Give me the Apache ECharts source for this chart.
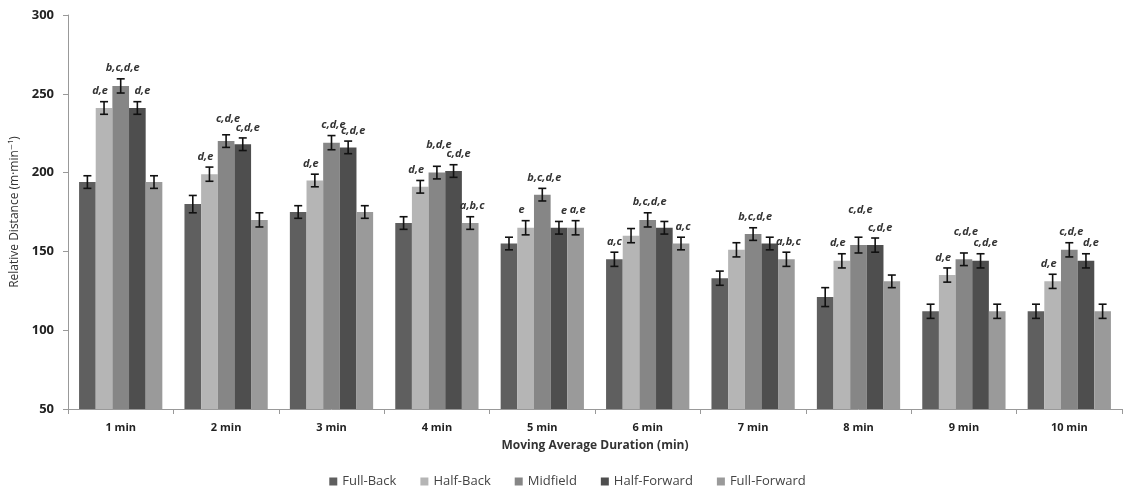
<!DOCTYPE html>
<html>
<head>
<meta charset="utf-8">
<script src="https://cdn.jsdelivr.net/npm/echarts@6/dist/echarts.min.js"></script>
<style>
  html, body { margin: 0; padding: 0; background: #fff; }
  #chart { width: 1135px; height: 496px; }
</style>
</head>
<body>
<div id="chart"></div>
<script>
var categories = ['1 min', '2 min', '3 min', '4 min', '5 min', '6 min', '7 min', '8 min', '9 min', '10 min'];
var positions = ['Full-Back', 'Half-Back', 'Midfield', 'Half-Forward', 'Full-Forward'];

var fullBack = [194, 180, 175, 168, 155, 145, 133, 121, 112, 112];
var halfBack = [241, 199, 195, 191, 165, 160, 151, 144, 135, 131];
var midfield = [255, 220, 219, 200, 186, 170, 161, 154, 145, 151];
var halfForward = [241, 218, 216, 201, 165, 165, 155, 154, 144, 144];
var fullForward = [194, 170, 175, 168, 165, 155, 145, 131, 112, 112];

var fullBackErr = [4, 5.5, 4, 4, 4, 4.5, 4.5, 6, 4.5, 4.5];
var halfBackErr = [4, 4.5, 4, 4, 4.5, 4.5, 4.5, 4.5, 4.5, 4.5];
var midfieldErr = [4.5, 4, 4.5, 4, 4, 4.5, 4, 5, 4, 4.5];
var halfForwardErr = [4, 4, 4, 4, 4, 4, 4, 4.5, 4.5, 4.5];
var fullForwardErr = [4, 4.5, 4, 4, 4.5, 4, 4.5, 4, 4.5, 4.5];

// significance letters per position
var fullBackSig = ['', '', '', '', '', 'a,c', '', '', '', ''];
var halfBackSig = ['d,e', 'd,e', 'd,e', 'd,e', 'e', '', '', 'd,e', 'd,e', 'd,e'];
var midfieldSig = ['b,c,d,e', 'c,d,e', 'c,d,e', 'b,d,e', 'b,c,d,e', 'b,c,d,e', 'b,c,d,e', 'c,d,e', 'c,d,e', 'c,d,e'];
var halfForwardSig = ['d,e', 'c,d,e', 'c,d,e', 'c,d,e', 'e', '', '', 'c,d,e', 'c,d,e', 'd,e'];
var fullForwardSig = ['', '', '', 'a,b,c', 'a,e', 'a,c', 'a,b,c', '', '', ''];

var colors = ['#5f5f5f', '#b5b5b5', '#868686', '#4e4e4e', '#9a9a9a'];

var values = [fullBack, halfBack, midfield, halfForward, fullForward];
var errors = [fullBackErr, halfBackErr, midfieldErr, halfForwardErr, fullForwardErr];
var sigs = [fullBackSig, halfBackSig, midfieldSig, halfForwardSig, fullForwardSig];

var catGap = 0.21;
var font = '"Open Sans", "DejaVu Sans", sans-serif';
// small nudges so neighbouring letters don't collide (as in the original)
var labelShift = [0, -4, 2, 5, 2];
var raisedLabels = { '2-1': 10, '2-3': 16, '2-7': 22, '2-8': 16 };

var myChart = echarts.init(document.getElementById('chart'));

var series = [];
positions.forEach(function (name, i) {
    series.push({
        name: name,
        type: 'bar',
        data: values[i],
        barGap: '0%',
        barCategoryGap: (catGap * 100) + '%',
        itemStyle: { color: colors[i] },
        silent: true
    });
});

positions.forEach(function (name, i) {
    var data = values[i].map(function (v, k) {
        return [k, v, errors[i][k], sigs[i][k]];
    });
    series.push({
        type: 'custom',
        name: name + '-err',
        z: 10,
        silent: true,
        data: data,
        encode: { x: 0, y: 1 },
        renderItem: function (params, api) {
            var k = api.value(0);
            var v = api.value(1);
            var e = api.value(2);
            var txt = data[params.dataIndex][3];
            var catW = api.size([1, 0])[0];
            var barW = catW * (1 - catGap) / 5;
            var c = api.coord([k, v]);
            var x = c[0] + (i - 2) * barW;
            var yHi = api.coord([k, v + e])[1];
            var yLo = api.coord([k, v - e])[1];
            var hw = 4;
            var st = { stroke: '#111', lineWidth: 1.6 };
            var children = [
                { type: 'line', shape: { x1: x, y1: yHi, x2: x, y2: yLo }, style: st },
                { type: 'line', shape: { x1: x - hw, y1: yHi, x2: x + hw, y2: yHi }, style: st },
                { type: 'line', shape: { x1: x - hw, y1: yLo, x2: x + hw, y2: yLo }, style: st }
            ];
            if (txt) {
                var lift = raisedLabels[i + '-' + k] || 5;
                children.push({
                    type: 'text',
                    x: x + labelShift[i],
                    y: yHi - lift,
                    style: {
                        text: txt,
                        fill: '#333',
                        font: 'italic bold 11px ' + font,
                        textAlign: 'center',
                        textVerticalAlign: 'bottom'
                    }
                });
            }
            return { type: 'group', children: children };
        }
    });
});

var option = {
    backgroundColor: '#fff',
    animation: false,
    textStyle: { fontFamily: font },
    grid: { left: 68, right: 13, top: 15, bottom: 87, containLabel: false },
    legend: {
        bottom: 3,
        left: 'center',
        itemWidth: 8,
        itemHeight: 8,
        itemGap: 24,
        icon: 'rect',
        data: positions,
        textStyle: { fontSize: 13, color: '#444', fontFamily: font }
    },
    xAxis: {
        type: 'category',
        data: categories,
        name: 'Moving Average Duration (min)',
        nameLocation: 'middle',
        nameGap: 31,
        nameTextStyle: { fontSize: 12, fontWeight: 'bold', color: '#333', fontFamily: font },
        axisLine: { lineStyle: { color: '#999' } },
        axisTick: { show: true, alignWithLabel: false, length: 5, lineStyle: { color: '#999' } },
        axisLabel: { fontSize: 11, fontWeight: 'bold', color: '#222', margin: 13, fontFamily: font }
    },
    yAxis: {
        type: 'value',
        min: 50,
        max: 300,
        interval: 50,
        name: 'Relative Distance (m\u00b7min\u207b\u00b9)',
        nameLocation: 'middle',
        nameGap: 44,
        nameRotate: 90,
        nameTextStyle: { fontSize: 12, color: '#333', fontFamily: font },
        splitLine: { show: false },
        axisLine: { show: true, lineStyle: { color: '#999' } },
        axisTick: { show: true, length: 5, lineStyle: { color: '#999' } },
        axisLabel: { fontSize: 13, fontWeight: 'bold', color: '#222', margin: 14, fontFamily: font }
    },
    series: series
};

myChart.setOption(option);
</script>
</body>
</html>
